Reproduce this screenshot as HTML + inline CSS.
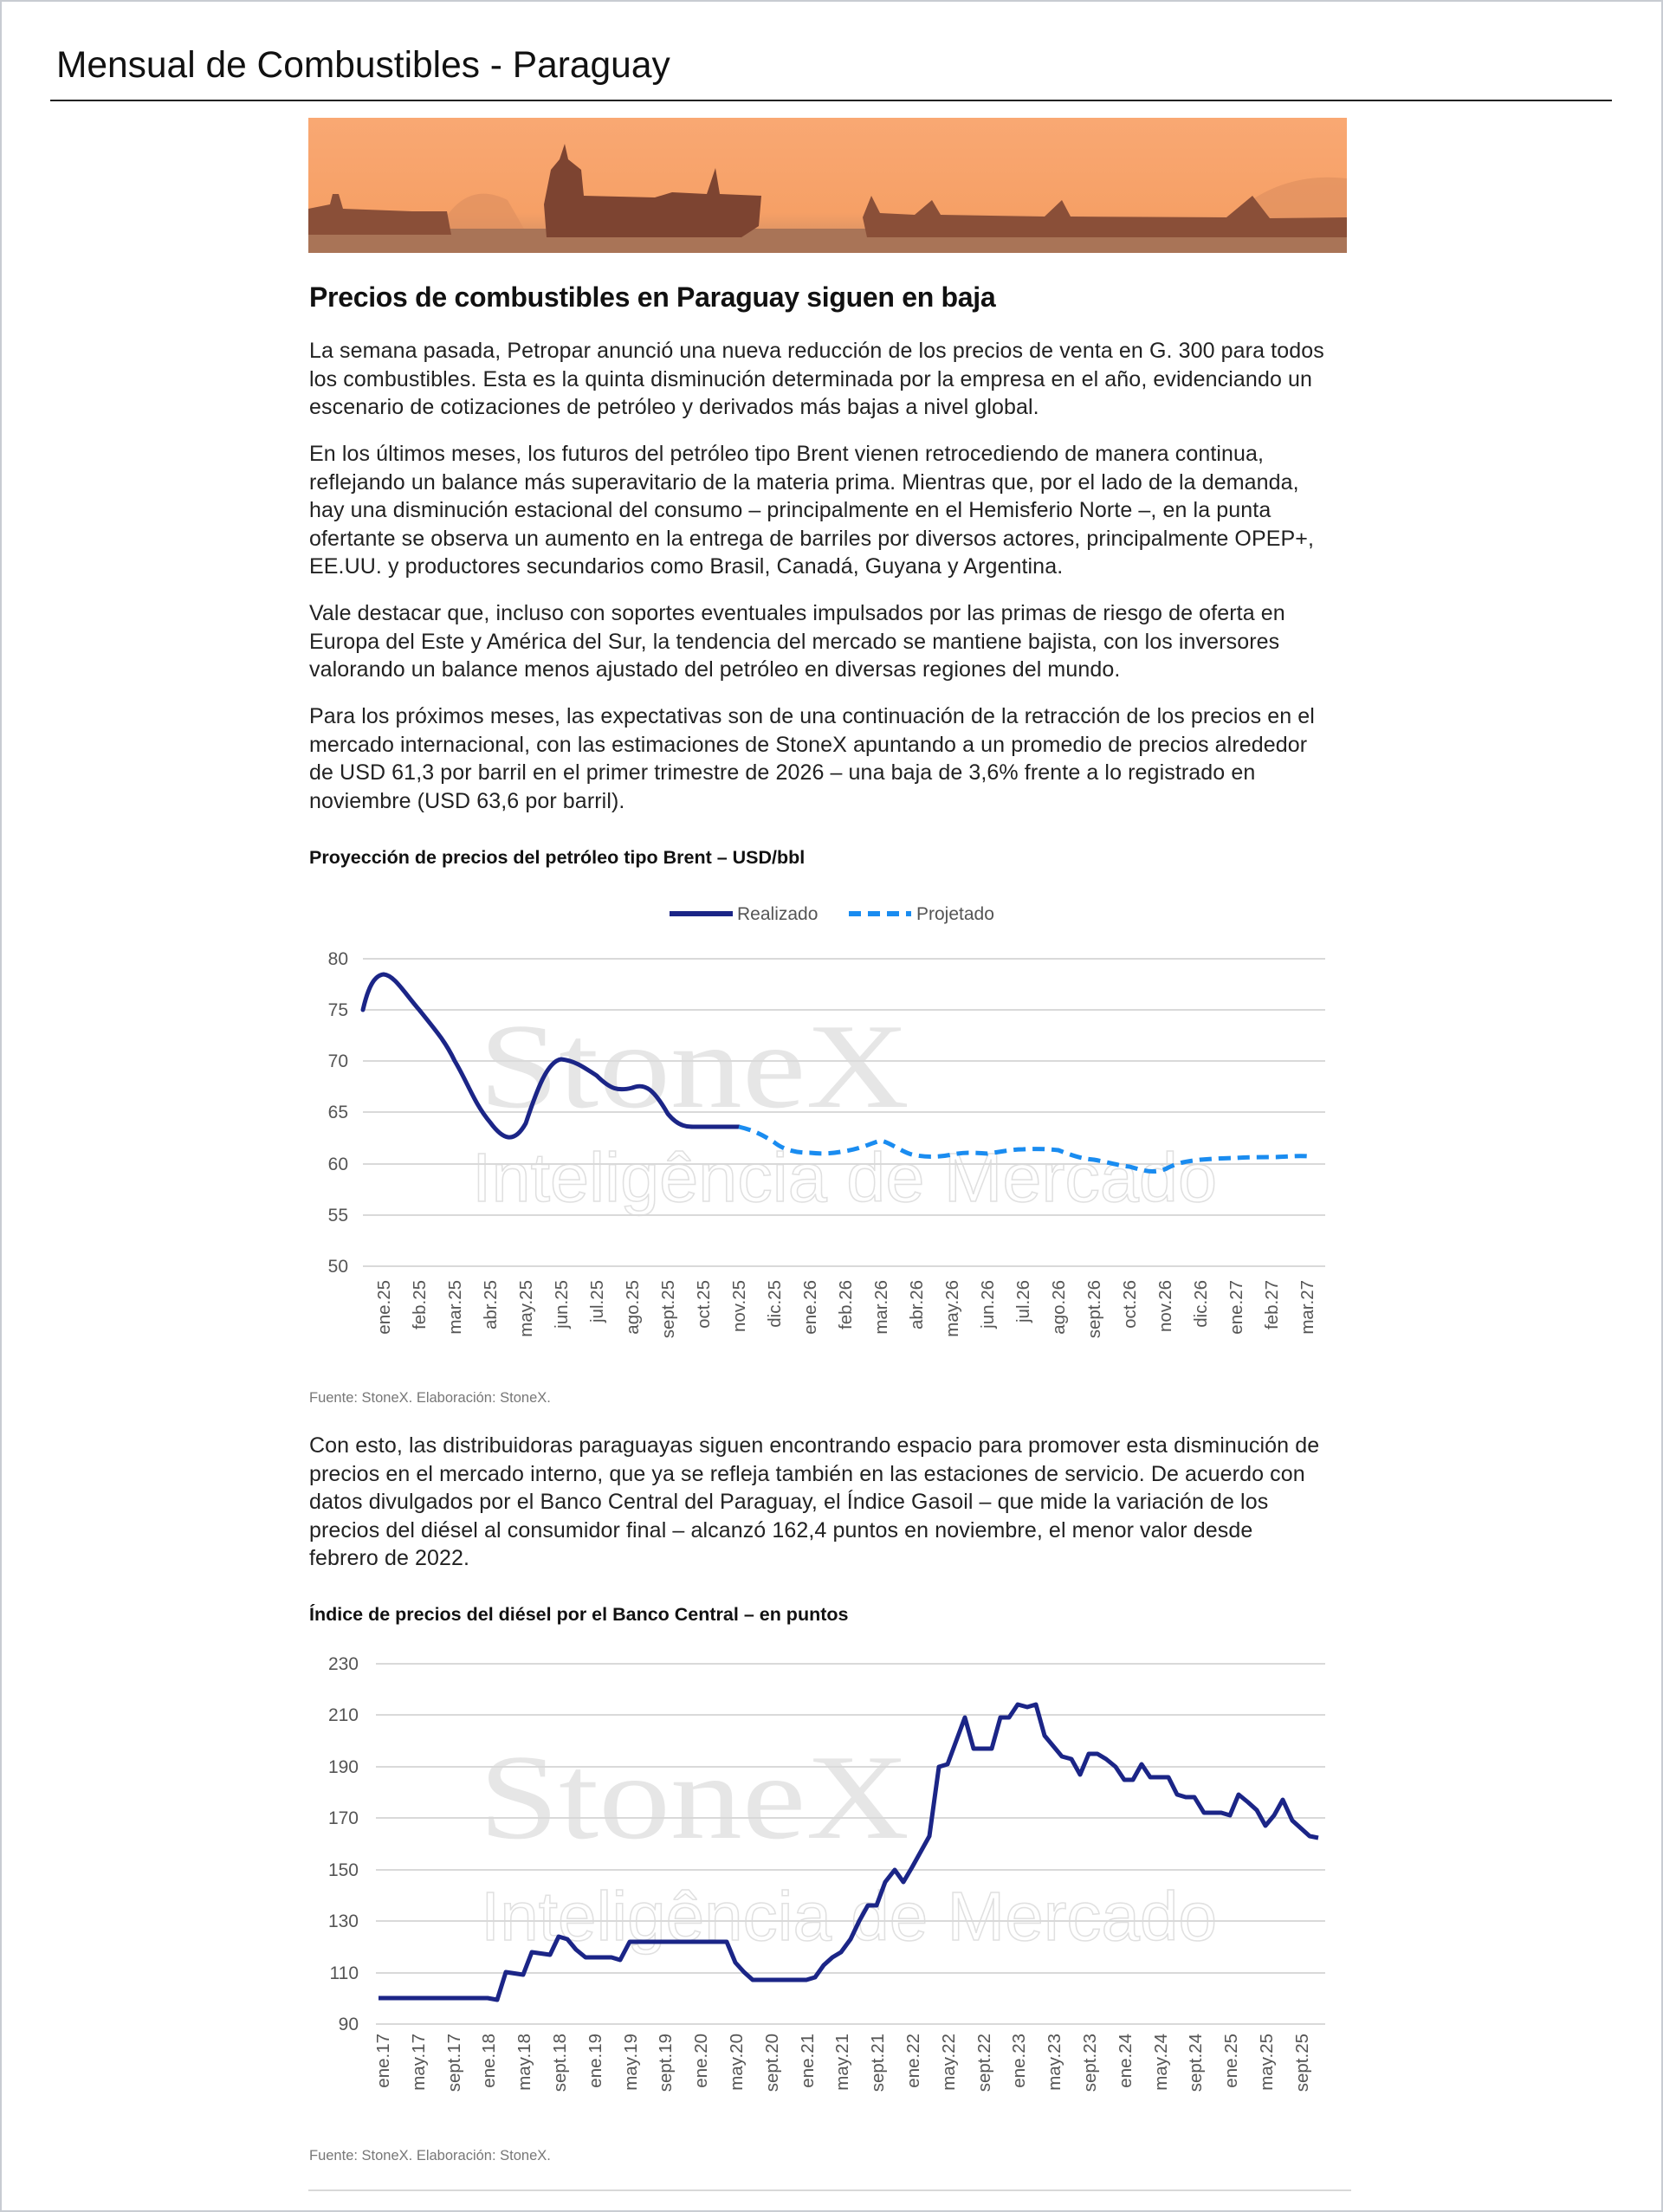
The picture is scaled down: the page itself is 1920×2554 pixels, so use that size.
<!DOCTYPE html>
<html><head><meta charset="utf-8"><style>
html,body{margin:0;padding:0;background:#fff}
body{width:1920px;height:2554px;position:relative;overflow:hidden;font-family:"Liberation Sans",Arial,sans-serif;color:#1a1a1a}
.frame{position:absolute;left:0;top:0;width:1916px;height:2550px;border:2px solid #c8ccd2}
.p{position:absolute;left:357px;width:1230px;font-size:25px;letter-spacing:0.1px;line-height:32.6px;white-space:nowrap;color:#222}
.abs{position:absolute}
</style></head><body>
<div class="frame"></div>
<div class="abs" style="left:65px;top:52px;font-size:42.5px;color:#111">Mensual de Combustibles - Paraguay</div>
<div class="abs" style="left:58px;top:115px;width:1803px;height:2px;background:#222"></div>

<svg class="abs" style="left:356px;top:136px" width="1199" height="156" viewBox="0 0 1199 156">
<defs><linearGradient id="sky" x1="0" y1="0" x2="0" y2="1"><stop offset="0" stop-color="#f9a873"/><stop offset="0.7" stop-color="#f6a066"/><stop offset="1" stop-color="#c98a62"/></linearGradient></defs>
<rect width="1199" height="156" fill="url(#sky)"/>
<path d="M150 130 Q180 70 230 95 L250 130Z" fill="#e0905f" opacity=".7"/>
<path d="M1050 130 Q1110 60 1199 70 L1199 130Z" fill="#e0905f" opacity=".7"/>
<rect y="128" width="1199" height="28" fill="#a97457"/>
<path d="M0 105 L25 100 L28 88 L35 88 L40 105 L120 108 L160 108 L165 135 L0 135Z" fill="#8a4f38"/>
<path d="M272 100 L280 60 L290 48 L296 30 L300 48 L315 60 L318 90 L400 92 L420 86 L460 88 L470 58 L475 88 L523 90 L520 125 L500 138 L275 138Z" fill="#7d4431"/>
<path d="M640 115 L650 90 L660 110 L700 112 L720 95 L730 112 L850 114 L870 95 L880 114 L1060 115 L1090 90 L1110 116 L1199 115 L1199 138 L645 138Z" fill="#8a4f38"/>
</svg>

<div class="abs" style="left:357px;top:325px;font-size:32px;font-weight:bold;color:#111;letter-spacing:-0.3px">Precios de combustibles en Paraguay siguen en baja</div>

<div class="p" style="top:389px">La semana pasada, Petropar anunció una nueva reducción de los precios de venta en G. 300 para todos<br>los combustibles. Esta es la quinta disminución determinada por la empresa en el año, evidenciando un<br>escenario de cotizaciones de petróleo y derivados más bajas a nivel global.</div>
<div class="p" style="top:508px">En los últimos meses, los futuros del petróleo tipo Brent vienen retrocediendo de manera continua,<br>reflejando un balance más superavitario de la materia prima. Mientras que, por el lado de la demanda,<br>hay una disminución estacional del consumo – principalmente en el Hemisferio Norte –, en la punta<br>ofertante se observa un aumento en la entrega de barriles por diversos actores, principalmente OPEP+,<br>EE.UU. y productores secundarios como Brasil, Canadá, Guyana y Argentina.</div>
<div class="p" style="top:692px">Vale destacar que, incluso con soportes eventuales impulsados por las primas de riesgo de oferta en<br>Europa del Este y América del Sur, la tendencia del mercado se mantiene bajista, con los inversores<br>valorando un balance menos ajustado del petróleo en diversas regiones del mundo.</div>
<div class="p" style="top:811px">Para los próximos meses, las expectativas son de una continuación de la retracción de los precios en el<br>mercado internacional, con las estimaciones de StoneX apuntando a un promedio de precios alrededor<br>de USD 61,3 por barril en el primer trimestre de 2026 – una baja de 3,6% frente a lo registrado en<br>noviembre (USD 63,6 por barril).</div>
<div class="p" style="top:1653px">Con esto, las distribuidoras paraguayas siguen encontrando espacio para promover esta disminución de<br>precios en el mercado interno, que ya se refleja también en las estaciones de servicio. De acuerdo con<br>datos divulgados por el Banco Central del Paraguay, el Índice Gasoil – que mide la variación de los<br>precios del diésel al consumidor final – alcanzó 162,4 puntos en noviembre, el menor valor desde<br>febrero de 2022.</div>

<svg class="abs" style="left:0;top:0" width="1920" height="2554" viewBox="0 0 1920 2554" font-family="Liberation Sans, Arial, sans-serif">
<!-- chart 1 -->
<text x="357" y="997" font-size="21.5" font-weight="bold" fill="#111">Proyección de precios del petróleo tipo Brent – USD/bbl</text>
<text x="553" y="1278" font-size="140" font-family="Liberation Serif, serif" fill="#e6e6e6" textLength="497" lengthAdjust="spacingAndGlyphs">StoneX</text>
<text x="545" y="1387" font-size="80" fill="none" stroke="#e0e0e0" stroke-width="1.5" textLength="860" lengthAdjust="spacingAndGlyphs">Inteligência de Mercado</text>
<line x1="773" y1="1055" x2="846" y2="1055" stroke="#1b2587" stroke-width="6"/>
<text x="851" y="1062" font-size="21" fill="#555">Realizado</text>
<line x1="980" y1="1055" x2="1052" y2="1055" stroke="#1a8cf0" stroke-width="6" stroke-dasharray="14 8"/>
<text x="1058" y="1062" font-size="21" fill="#555">Projetado</text>
<g stroke="#d9d9d9" stroke-width="2">
<line x1="419" x2="1530" y1="1107" y2="1107"/><line x1="419" x2="1530" y1="1166" y2="1166"/><line x1="419" x2="1530" y1="1225" y2="1225"/><line x1="419" x2="1530" y1="1284" y2="1284"/><line x1="419" x2="1530" y1="1344" y2="1344"/><line x1="419" x2="1530" y1="1403" y2="1403"/><line x1="419" x2="1530" y1="1462" y2="1462"/>
</g>
<g font-size="21" fill="#555" text-anchor="end">
<text x="402" y="1114">80</text><text x="402" y="1173">75</text><text x="402" y="1232">70</text><text x="402" y="1291">65</text><text x="402" y="1351">60</text><text x="402" y="1410">55</text><text x="402" y="1469">50</text>
</g>
<path d="M419 1166 C425 1140 432 1126 443 1125 C455 1126 466 1145 484 1166 C505 1192 515 1204 525 1225 C540 1250 548 1275 566 1296 C580 1315 593 1322 607 1297 C620 1258 632 1225 648 1223 C665 1225 675 1233 689 1242 C705 1258 714 1260 730 1256 C745 1250 755 1258 771 1286 C785 1303 795 1301 812 1301 L853 1301" fill="none" stroke="#1b2587" stroke-width="5" stroke-linecap="round"/>
<path d="M853 1301 C870 1305 880 1310 894 1319 C905 1328 920 1331 935 1331 C955 1333 965 1331 976 1329 C995 1326 1005 1320 1017 1317 C1030 1320 1045 1333 1058 1334 C1075 1337 1090 1335 1099 1333 C1115 1330 1125 1331 1140 1332 C1160 1329 1170 1327 1181 1327 C1200 1326 1212 1327 1222 1328 C1240 1335 1250 1338 1263 1339 C1280 1342 1292 1346 1304 1347 C1322 1352 1330 1355 1345 1350 C1360 1342 1370 1341 1386 1339 C1400 1338 1415 1337 1427 1337 C1440 1336 1455 1336 1468 1336 C1485 1336 1495 1334 1510 1335" fill="none" stroke="#1a8cf0" stroke-width="5" stroke-dasharray="14 8"/>
<g font-size="20.5" fill="#555" text-anchor="end">
<text transform="translate(450,1478) rotate(-90)">ene.25</text>
<text transform="translate(491,1478) rotate(-90)">feb.25</text>
<text transform="translate(532,1478) rotate(-90)">mar.25</text>
<text transform="translate(573,1478) rotate(-90)">abr.25</text>
<text transform="translate(614,1478) rotate(-90)">may.25</text>
<text transform="translate(655,1478) rotate(-90)">jun.25</text>
<text transform="translate(696,1478) rotate(-90)">jul.25</text>
<text transform="translate(737,1478) rotate(-90)">ago.25</text>
<text transform="translate(778,1478) rotate(-90)">sept.25</text>
<text transform="translate(819,1478) rotate(-90)">oct.25</text>
<text transform="translate(860,1478) rotate(-90)">nov.25</text>
<text transform="translate(901,1478) rotate(-90)">dic.25</text>
<text transform="translate(942,1478) rotate(-90)">ene.26</text>
<text transform="translate(983,1478) rotate(-90)">feb.26</text>
<text transform="translate(1024,1478) rotate(-90)">mar.26</text>
<text transform="translate(1065,1478) rotate(-90)">abr.26</text>
<text transform="translate(1106,1478) rotate(-90)">may.26</text>
<text transform="translate(1147,1478) rotate(-90)">jun.26</text>
<text transform="translate(1188,1478) rotate(-90)">jul.26</text>
<text transform="translate(1229,1478) rotate(-90)">ago.26</text>
<text transform="translate(1270,1478) rotate(-90)">sept.26</text>
<text transform="translate(1311,1478) rotate(-90)">oct.26</text>
<text transform="translate(1352,1478) rotate(-90)">nov.26</text>
<text transform="translate(1393,1478) rotate(-90)">dic.26</text>
<text transform="translate(1434,1478) rotate(-90)">ene.27</text>
<text transform="translate(1475,1478) rotate(-90)">feb.27</text>
<text transform="translate(1516,1478) rotate(-90)">mar.27</text>
</g>
<text x="357" y="1619" font-size="16.5" fill="#777">Fuente: StoneX. Elaboración: StoneX.</text>

<!-- chart 2 -->
<text x="357" y="1871" font-size="21.5" font-weight="bold" fill="#111">Índice de precios del diésel por el Banco Central – en puntos</text>
<text x="553" y="2122" font-size="140" font-family="Liberation Serif, serif" fill="#e6e6e6" textLength="497" lengthAdjust="spacingAndGlyphs">StoneX</text>
<text x="555" y="2240" font-size="80" fill="none" stroke="#e0e0e0" stroke-width="1.5" textLength="850" lengthAdjust="spacingAndGlyphs">Inteligência de Mercado</text>
<g stroke="#d9d9d9" stroke-width="2">
<line x1="434" x2="1530" y1="1921" y2="1921"/><line x1="434" x2="1530" y1="1980" y2="1980"/><line x1="434" x2="1530" y1="2040" y2="2040"/><line x1="434" x2="1530" y1="2099" y2="2099"/><line x1="434" x2="1530" y1="2159" y2="2159"/><line x1="434" x2="1530" y1="2218" y2="2218"/><line x1="434" x2="1530" y1="2278" y2="2278"/><line x1="434" x2="1530" y1="2337" y2="2337"/>
</g>
<g font-size="21" fill="#555" text-anchor="end">
<text x="414" y="1928">230</text><text x="414" y="1987">210</text><text x="414" y="2047">190</text><text x="414" y="2106">170</text><text x="414" y="2166">150</text><text x="414" y="2225">130</text><text x="414" y="2285">110</text><text x="414" y="2344">90</text>
</g>
<polyline fill="none" stroke="#1b2587" stroke-width="5" stroke-linejoin="round" points="437,2307 563,2307 574,2309 584,2277 604,2280 614,2254 635,2257 645,2236 655,2239 665,2251 676,2260 706,2260 716,2263 727,2242 839,2242 849,2266 859,2277 869,2286 931,2286 941,2283 951,2269 961,2260 971,2254 982,2239 992,2218 1002,2200 1012,2200 1022,2173 1033,2159 1043,2173 1053,2156 1063,2138 1073,2120 1084,2040 1094,2037 1104,2010 1114,1983 1124,2019 1135,2019 1145,2019 1155,1983 1165,1983 1175,1968 1186,1971 1196,1968 1206,2004 1216,2016 1226,2028 1237,2031 1247,2049 1257,2025 1267,2025 1277,2031 1288,2040 1298,2055 1308,2055 1318,2037 1328,2052 1339,2052 1349,2052 1359,2072 1369,2075 1379,2075 1390,2093 1400,2093 1410,2093 1420,2096 1430,2072 1441,2081 1451,2090 1461,2108 1471,2096 1481,2078 1492,2102 1502,2111 1512,2120 1522,2122"/>
<g font-size="20.5" fill="#555" text-anchor="end">
<text transform="translate(449,2348) rotate(-90)">ene.17</text>
<text transform="translate(490,2348) rotate(-90)">may.17</text>
<text transform="translate(531,2348) rotate(-90)">sept.17</text>
<text transform="translate(571,2348) rotate(-90)">ene.18</text>
<text transform="translate(612,2348) rotate(-90)">may.18</text>
<text transform="translate(653,2348) rotate(-90)">sept.18</text>
<text transform="translate(694,2348) rotate(-90)">ene.19</text>
<text transform="translate(735,2348) rotate(-90)">may.19</text>
<text transform="translate(775,2348) rotate(-90)">sept.19</text>
<text transform="translate(816,2348) rotate(-90)">ene.20</text>
<text transform="translate(857,2348) rotate(-90)">may.20</text>
<text transform="translate(898,2348) rotate(-90)">sept.20</text>
<text transform="translate(939,2348) rotate(-90)">ene.21</text>
<text transform="translate(979,2348) rotate(-90)">may.21</text>
<text transform="translate(1020,2348) rotate(-90)">sept.21</text>
<text transform="translate(1061,2348) rotate(-90)">ene.22</text>
<text transform="translate(1102,2348) rotate(-90)">may.22</text>
<text transform="translate(1143,2348) rotate(-90)">sept.22</text>
<text transform="translate(1183,2348) rotate(-90)">ene.23</text>
<text transform="translate(1224,2348) rotate(-90)">may.23</text>
<text transform="translate(1265,2348) rotate(-90)">sept.23</text>
<text transform="translate(1306,2348) rotate(-90)">ene.24</text>
<text transform="translate(1347,2348) rotate(-90)">may.24</text>
<text transform="translate(1387,2348) rotate(-90)">sept.24</text>
<text transform="translate(1428,2348) rotate(-90)">ene.25</text>
<text transform="translate(1469,2348) rotate(-90)">may.25</text>
<text transform="translate(1510,2348) rotate(-90)">sept.25</text>
</g>
<text x="357" y="2494" font-size="16.5" fill="#777">Fuente: StoneX. Elaboración: StoneX.</text>
<line x1="356" y1="2529" x2="1560" y2="2529" stroke="#ccc" stroke-width="1.5"/>
</svg>
</body></html>
